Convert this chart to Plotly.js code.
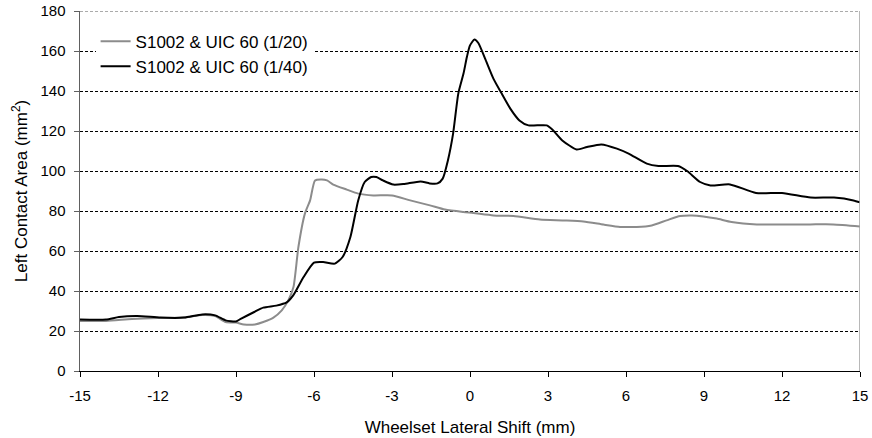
<!DOCTYPE html>
<html>
<head>
<meta charset="utf-8">
<script src="https://cdn.plot.ly/plotly-3.0.1.min.js"></script>
<style>
  html, body { margin: 0; padding: 0; background: #fff; }
  #chart { width: 872px; height: 438px; }
</style>
</head>
<body>
<div id="chart"></div>
<script>
// Left contact area versus wheelset lateral shift, S1002 wheel on UIC 60 rail
const shift20 = [-15, -14, -13, -12, -11, -10.3, -9.8, -9.4, -9, -8.7, -8.27, -7.95, -7.56, -7.24, -6.99, -6.79, -6.6, -6.35, -6.15, -5.96, -5.7, -5.5, -5.26, -4.74, -4.3, -3.72, -3.0, -2.3, -1.54, -0.96, -0.26, 0.13, 0.9, 1.67, 2.69, 3.59, 4.36, 5.13, 5.77, 6.03, 6.41, 6.99, 7.56, 8.08, 8.53, 8.97, 9.49, 10.06, 11.03, 12.1, 13.08, 13.97, 15];
const area20 = [25, 25, 26, 26.5, 26.7, 28.0, 27.5, 24.5, 24.2, 23.3, 23.3, 24.5, 26.7, 30.3, 35.3, 42, 62, 78.7, 85.3, 95.3, 95.8, 95.3, 93.2, 90.7, 88.7, 87.8, 87.8, 85.3, 82.8, 80.7, 79.5, 79, 77.8, 77.5, 75.7, 75.3, 74.8, 73.2, 72, 72, 72, 72.8, 75.3, 77.5, 77.8, 77.3, 76.2, 74.5, 73.3, 73.3, 73.3, 73.3, 72.3];

const shift40 = [-15, -14, -13.5, -12.8, -11.9, -11, -10.3, -9.8, -9.4, -9, -8.8, -8.3, -7.95, -7.45, -7.05, -6.8, -6.4, -6.0, -5.65, -5.2, -4.9, -4.6, -4.3, -4.05, -3.8, -3.6, -3.35, -2.95, -2.55, -1.9, -1.55, -1.25, -1.05, -0.85, -0.65, -0.45, -0.25, -0.12, 0, 0.17, 0.32, 0.58, 0.9, 1.22, 1.55, 1.9, 2.25, 2.95, 3.2, 3.55, 4.1, 4.5, 5.05, 5.65, 6.1, 6.8, 7.25, 8.0, 8.35, 8.85, 9.25, 10, 11, 12, 13.1, 14, 14.75, 15];
const area40 = [25.7, 25.7, 27, 27.5, 26.7, 26.7, 28.3, 27.8, 25.3, 24.8, 26.2, 29.5, 31.7, 32.7, 34.3, 37.8, 47, 54.2, 54.5, 53.7, 57, 67, 85.3, 94.5, 97, 97, 95.3, 93.2, 93.5, 94.8, 93.8, 93.8, 96.2, 105.3, 118.7, 138.7, 148.7, 157, 162.8, 165.7, 164, 156.2, 146.2, 138.7, 131.2, 125.3, 122.8, 122.8, 120.3, 115.3, 110.8, 112, 113.3, 111.2, 108.7, 103.7, 102.5, 102.5, 100, 94.5, 92.8, 93.3, 89, 89, 86.7, 86.7, 85.3, 84.3];

const xTicks = [-15, -12, -9, -6, -3, 0, 3, 6, 9, 12, 15];
const yTicks = [0, 20, 40, 60, 80, 100, 120, 140, 160, 180];

const fontFamily = 'Arial, "Liberation Sans", sans-serif';

const traces = [
  {
    x: shift20, y: area20, type: 'scatter', mode: 'lines',
    name: 'S1002 &amp; UIC 60 (1/20)',
    line: { color: '#8c8c8c', width: 2, shape: 'spline', smoothing: 0.6 }
  },
  {
    x: shift40, y: area40, type: 'scatter', mode: 'lines',
    name: 'S1002 &amp; UIC 60 (1/40)',
    line: { color: '#000000', width: 2, shape: 'spline', smoothing: 0.6 }
  }
];

const layout = {
  width: 872, height: 438,
  margin: { l: 80, r: 12, t: 11, b: 67 },
  paper_bgcolor: '#fff', plot_bgcolor: '#fff',
  font: { family: fontFamily, size: 15, color: '#000' },
  showlegend: true,
  legend: {
    x: 0.02, y: 0.965, xanchor: 'left', yanchor: 'top',
    bgcolor: '#fff', borderwidth: 0,
    font: { family: fontFamily, size: 17, color: '#000' }
  },
  xaxis: {
    range: [-15, 15], tickvals: xTicks, ticktext: xTicks.map(String),
    showgrid: false, zeroline: false,
    showline: true, linecolor: '#000', linewidth: 1,
    ticks: 'outside', ticklen: 5, tickcolor: '#000',
    ticklabelstandoff: 6,
    tickfont: { size: 15 },
    title: { text: 'Wheelset Lateral Shift (mm)', font: { size: 17 }, standoff: 18 }
  },
  yaxis: {
    range: [0, 180], tickvals: yTicks, ticktext: yTicks.map(String),
    showgrid: true, gridcolor: '#000', gridwidth: 1, griddash: '3px,2px',
    zeroline: false,
    showline: true, linecolor: '#606060', linewidth: 1.5,
    ticks: 'outside', ticklen: 5, tickcolor: '#606060',
    ticklabelstandoff: 5,
    tickfont: { size: 15 },
    title: { text: 'Left Contact Area (mm<sup>2</sup>)', font: { size: 17 }, standoff: 8 }
  },
  shapes: [
    // top border of the plot area
    { type: 'line', xref: 'paper', yref: 'y', x0: 0, x1: 1, y0: 180, y1: 180,
      line: { color: '#909090', width: 1.5, dash: '3px,2px' } },
    // right border of the plot area
    { type: 'line', xref: 'x', yref: 'paper', x0: 15, x1: 15, y0: 0, y1: 1,
      line: { color: '#a0a0a0', width: 1.5 } }
  ]
};

Plotly.newPlot('chart', traces, layout, { displayModeBar: false, staticPlot: true });
</script>
</body>
</html>
